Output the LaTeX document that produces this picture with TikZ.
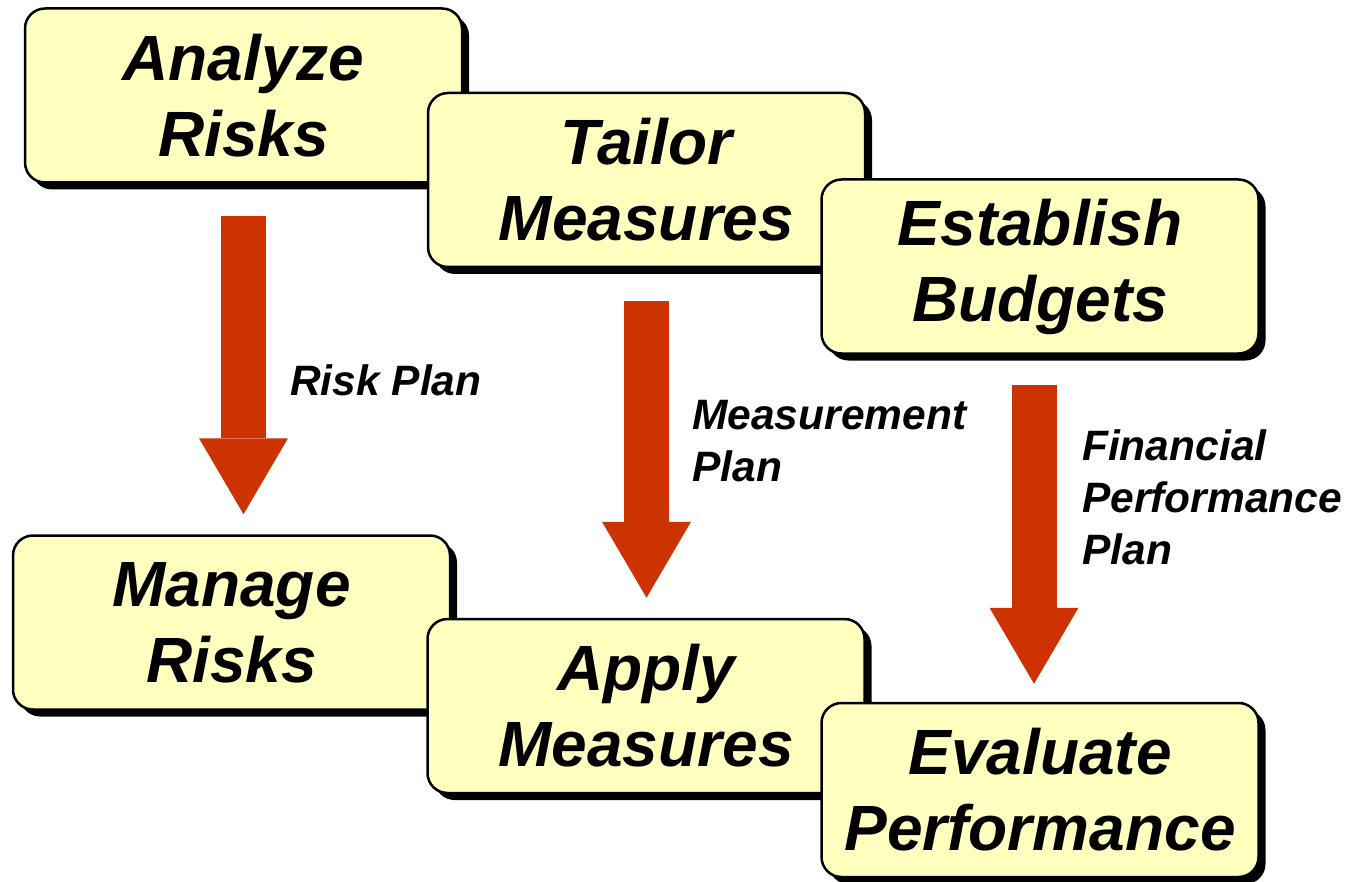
\documentclass[tikz,border=0pt]{standalone}
\usepackage{fontspec}
\setmainfont{Liberation Sans}
\usetikzlibrary{arrows.meta,shadows}
\definecolor{boxyellow}{HTML}{FFFFBF}
\definecolor{arrowred}{HTML}{CC3300}
\begin{document}
\begin{tikzpicture}[x=1pt,y=-1pt,
    step box/.style={rectangle,rounded corners=20pt,draw,line width=2.5pt,fill=boxyellow,
        minimum width=437pt,minimum height=174pt,align=center,inner sep=0pt,
        font=\fontsize{64}{76}\selectfont\bfseries\itshape,
        drop shadow={shadow xshift=7pt,shadow yshift=-7pt,fill=black,opacity=1}},
    flow/.style={draw=arrowred,line width=45pt,
        -{Triangle[width=89pt,length=76pt,line width=0pt,fill=arrowred]}},
    plan/.style={anchor=west,align=left,inner sep=0pt,
        font=\fontsize{42.5}{52}\selectfont\bfseries\itshape}]
    \useasboundingbox (0,0) rectangle (1348,882);

    \node[step box] (ar) at (243.5,95.5) {Analyze\\Risks};
    \node[step box] (tm) at (646.5,180) {Tailor\\Measures};
    \node[step box] (eb) at (1040,266.5) {Establish\\Budgets};
    \node[step box] (mr) at (231.5,622.5) {Manage\\Risks};
    \node[step box] (am) at (646,706) {Apply\\Measures};
    \node[step box] (ep) at (1040,790) {Evaluate\\Performance};

    \draw[flow,shorten <=32pt,shorten >=20pt] (ar.south) -- (ar.south |- mr.north);
    \draw[flow,shorten <=33pt,shorten >=20pt] (tm.south) -- (tm.south |- am.north);
    \draw[flow,shorten <=30pt,shorten >=18pt] ([xshift=-6pt]eb.south) -- ([xshift=-6pt]eb.south |- ep.north);

    \node[plan] (rp) at (290,380) {Risk Plan};
    \node[plan] (mp) at (692,441) {Measurement\\Plan};
    \node[plan] (fp) at (1082,497) {Financial\\Performance\\Plan};
\end{tikzpicture}
\end{document}
